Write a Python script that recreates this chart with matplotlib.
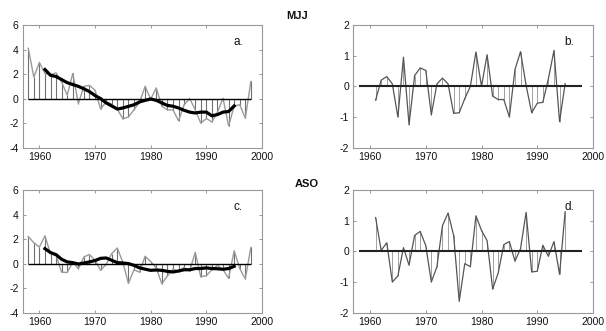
import matplotlib
matplotlib.use("Agg")
import matplotlib.pyplot as plt
import numpy as np

plt.rcParams['font.family'] = ['Liberation Sans', 'DejaVu Sans']
plt.rcParams['axes.unicode_minus'] = False

years_raw = list(range(1958, 1999))
years_sm = list(range(1961, 1996))

mjj_raw = [4.1, 1.75, 2.95, 2.05, 1.95, 2.1, 1.35, 0.28, 2.05, -0.4,
           1.0, 1.08, 0.68, -0.85, -0.25, -0.45, -0.85, -1.65, -1.5, -0.9,
           -0.3, 1.0, -0.05, 0.87, -0.62, -0.92, -0.92, -1.8, -0.5, 0.0,
           -0.9, -2.0, -1.62, -1.9, -1.1, 0.03, -2.22, -0.6, -0.5, -1.6, 1.4]
mjj_smooth = [2.37, 1.9, 1.8, 1.55, 1.3, 1.15, 1.0, 0.8, 0.57, 0.25,
              0.0, -0.35, -0.6, -0.85, -0.76, -0.63, -0.5, -0.27, -0.14, -0.03,
              -0.14, -0.35, -0.55, -0.62, -0.76, -0.95, -1.1, -1.17, -1.1, -1.1,
              -1.4, -1.3, -1.1, -1.05, -0.6]
mjj_hf = [-0.45, 0.2, 0.32, 0.08, -1.0, 0.95, -1.25, 0.35, 0.6, 0.52,
          -0.93, 0.08, 0.27, 0.08, -0.88, -0.86, -0.4, 0.0, 1.12, 0.0,
          1.03, -0.32, -0.43, -0.43, -1.0, 0.55, 1.13, 0.03, -0.86, -0.55,
          -0.52, 0.25, 1.17, -1.15, 0.09]

aso_raw = [2.2, 1.7, 1.35, 2.27, 0.8, 0.68, -0.7, -0.72, 0.12, -0.42,
           0.55, 0.74, 0.27, -0.55, -0.05, 0.82, 1.27, 0.1, -1.62, -0.5,
           -0.7, 0.6, 0.17, -0.35, -1.65, -1.0, -0.45, -0.65, -0.3, -0.6,
           0.92, -1.08, -0.98, -0.5, -0.15, -0.5, -1.2, 1.05, -0.4, -1.25, 1.32]
aso_smooth = [1.22, 0.9, 0.73, 0.35, 0.14, 0.08, -0.03, 0.05, 0.14, 0.25,
              0.43, 0.46, 0.27, 0.08, 0.05, 0.0, -0.14, -0.35, -0.45, -0.55,
              -0.52, -0.55, -0.63, -0.68, -0.6, -0.5, -0.5, -0.4, -0.4, -0.35,
              -0.4, -0.42, -0.46, -0.4, -0.22]
aso_hf = [1.1, 0.03, 0.28, -1.0, -0.8, 0.12, -0.45, 0.52, 0.65, 0.19,
          -1.0, -0.5, 0.84, 1.25, 0.52, -1.63, -0.4, -0.5, 1.16, 0.68,
          0.35, -1.23, -0.7, 0.22, 0.32, -0.32, 0.09, 1.27, -0.67, -0.65,
          0.2, -0.16, 0.32, -0.75, 1.29]

x_ticks = [1960, 1970, 1980, 1990, 2000]
y_ticks_left = [-4, -2, 0, 2, 4, 6]
y_ticks_right = [-2, -1, 0, 1, 2]
panel_labels = ['a.', 'b.', 'c.', 'd.']
season_titles = ['MJJ', 'ASO']

W, H = 606, 331
fig = plt.figure(figsize=(W / 100, H / 100), dpi=100)

def px_axes(l, t, r, b):
    return fig.add_axes([l / W, 1 - b / H, (r - l) / W, (b - t) / H])

ax_a = px_axes(22.7, 25, 262, 147.7)
ax_b = px_axes(353.3, 25, 593, 147.7)
ax_c = px_axes(22.7, 190, 262, 312.7)
ax_d = px_axes(353.3, 190, 593, 312.7)

def style(ax, ylim, yticks, label):
    ax.set_xlim(1957, 2000)
    ax.set_ylim(*ylim)
    ax.set_xticks(x_ticks)
    ax.set_yticks(yticks)
    ax.tick_params(direction='in', length=2.5, width=0.6, color='#888888',
                   top=True, right=True, labelsize=7.5, pad=3,
                   labelcolor='#111111')
    for s in ax.spines.values():
        s.set_color('#999999')
        s.set_linewidth(0.8)
    ax.text(0.90, 0.86, label, transform=ax.transAxes, fontsize=8.5,
            ha='center', va='center', color='#111111')

def low_panel(ax, raw, sm):
    ax.vlines(years_raw, 0, raw, colors='#707070', linewidth=0.8)
    ax.plot(years_raw, raw, color='#9a9a9a', linewidth=1.0)
    ax.hlines(0, years_raw[0], years_raw[-1], colors='black', linewidth=1.0)
    ax.plot(years_sm, sm, color='black', linewidth=2.3)

def high_panel(ax, hf):
    ax.vlines(years_sm, 0, hf, colors='#a0a0a0', linewidth=0.7)
    ax.plot(years_sm, hf, color='#555555', linewidth=0.9)
    ax.hlines(0, years_raw[0], years_raw[-1], colors='#222222', linewidth=1.5)

low_panel(ax_a, mjj_raw, mjj_smooth)
high_panel(ax_b, mjj_hf)
low_panel(ax_c, aso_raw, aso_smooth)
high_panel(ax_d, aso_hf)

style(ax_a, (-4, 6), y_ticks_left, panel_labels[0])
style(ax_b, (-2, 2), y_ticks_right, panel_labels[1])
style(ax_c, (-4, 6), y_ticks_left, panel_labels[2])
style(ax_d, (-2, 2), y_ticks_right, panel_labels[3])

fig.text(297 / W, 1 - 16 / H, season_titles[0], ha='center', va='center',
         fontsize=8, fontweight='bold', color='#111111')
fig.text(307 / W, 1 - 184 / H, season_titles[1], ha='center', va='center',
         fontsize=8, fontweight='bold', color='#111111')

fig.savefig('out.png', dpi=100, facecolor='white')
